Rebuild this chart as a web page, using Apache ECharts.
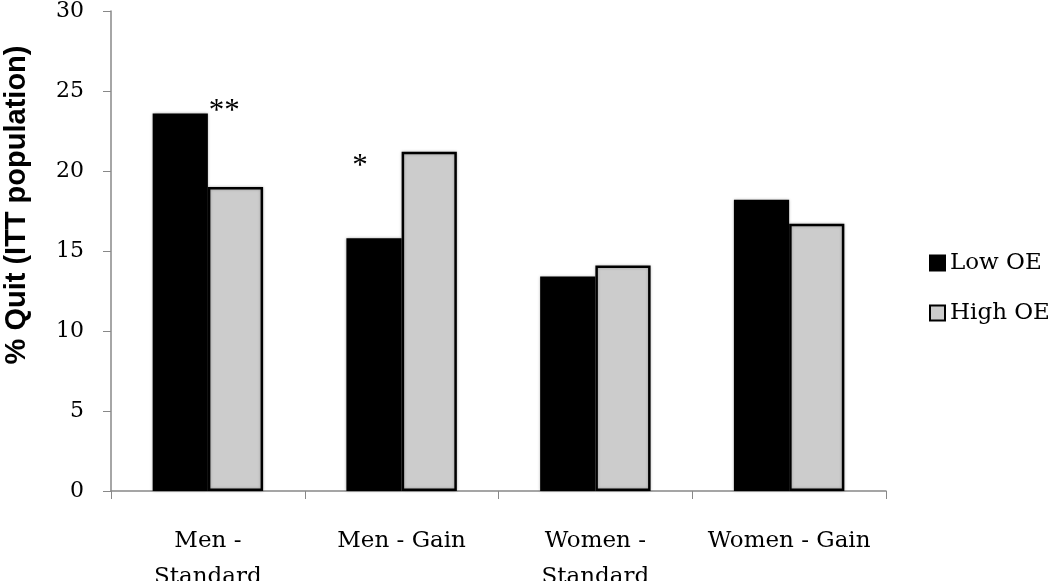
<!DOCTYPE html>
<html>
<head>
<meta charset="utf-8">
<script src="https://cdn.jsdelivr.net/npm/echarts@6/dist/echarts.min.js"></script>
<style>
  html, body { margin: 0; padding: 0; background: #fff; }
  #chart { width: 1050px; height: 581px; }
</style>
</head>
<body>
<div id="chart"></div>
<script>
// ================= 数据 =================
const categories = ['Men -\nStandard', 'Men - Gain', 'Women -\nStandard', 'Women - Gain']
const lowOE = [23.6, 15.8, 13.4, 18.2]
const highOE = [19.0, 21.2, 14.1, 16.7]
// significance marks on the Low OE bars
const lowMarks = ['**', '*', '', '']

const serif = '"DejaVu Serif", "Liberation Serif", serif'

const chart = echarts.init(document.getElementById('chart'))

const lowData = lowOE.map((v, i) => {
  if (!lowMarks[i]) return v
  // ** sits just past the bar edge, * floats higher
  const offset = i === 0 ? [44, 19] : [-14, -51]
  return {
    value: v,
    label: {
      show: true,
      position: 'top',
      formatter: lowMarks[i],
      offset,
      fontFamily: '"Liberation Serif", serif',
      fontSize: 31,
      color: '#000'
    }
  }
})

const option = {
  animation: false,
  backgroundColor: '#fff',
  grid: {
    left: 111,
    right: 164,
    top: 11,
    bottom: 90,
    containLabel: false,
    outerBoundsMode: 'none'
  },
  legend: {
    orient: 'vertical',
    left: 924,
    top: 244,
    itemWidth: 15,
    itemHeight: 15,
    itemGap: 22,
    icon: 'rect',
    textStyle: {
      fontFamily: serif,
      fontSize: 23,
      lineHeight: 28,
      color: '#000'
    },
    data: ['Low OE', 'High OE']
  },
  xAxis: {
    type: 'category',
    data: categories,
    axisLine: { lineStyle: { color: '#888', width: 1.5 } },
    axisTick: { show: true, length: 8, lineStyle: { color: '#888' } },
    axisLabel: {
      margin: 32,
      fontFamily: serif,
      fontSize: 23,
      lineHeight: 36,
      color: '#000',
      interval: 0
    }
  },
  yAxis: {
    type: 'value',
    min: 0,
    max: 30,
    interval: 5,
    name: '% Quit (ITT population)',
    nameLocation: 'middle',
    nameRotate: 90,
    nameGap: 80,
    nameTextStyle: {
      fontFamily: '"Liberation Sans", Arial, sans-serif',
      fontWeight: 'bold',
      fontSize: 29,
      color: '#000',
      padding: [0, 0, 0, 92]
    },
    axisLine: { show: true, lineStyle: { color: '#888', width: 1.5 } },
    axisTick: { show: true, length: 8, lineStyle: { color: '#888' } },
    axisLabel: {
      margin: 27,
      fontFamily: serif,
      fontSize: 22,
      color: '#000'
    },
    splitLine: { show: false }
  },
  series: [
    {
      name: 'Low OE',
      type: 'bar',
      barGap: '0%',
      barCategoryGap: '43%',
      itemStyle: {
        color: '#000',
        borderColor: '#000',
        borderWidth: 2,
        shadowColor: 'rgba(0,0,0,0.25)',
        shadowBlur: 3
      },
      data: lowData
    },
    {
      name: 'High OE',
      type: 'bar',
      itemStyle: {
        color: '#cccccc',
        borderColor: '#000',
        borderWidth: 2.5,
        shadowColor: 'rgba(0,0,0,0.25)',
        shadowBlur: 3
      },
      data: highOE
    }
  ]
}

chart.setOption(option)
</script>
</body>
</html>
